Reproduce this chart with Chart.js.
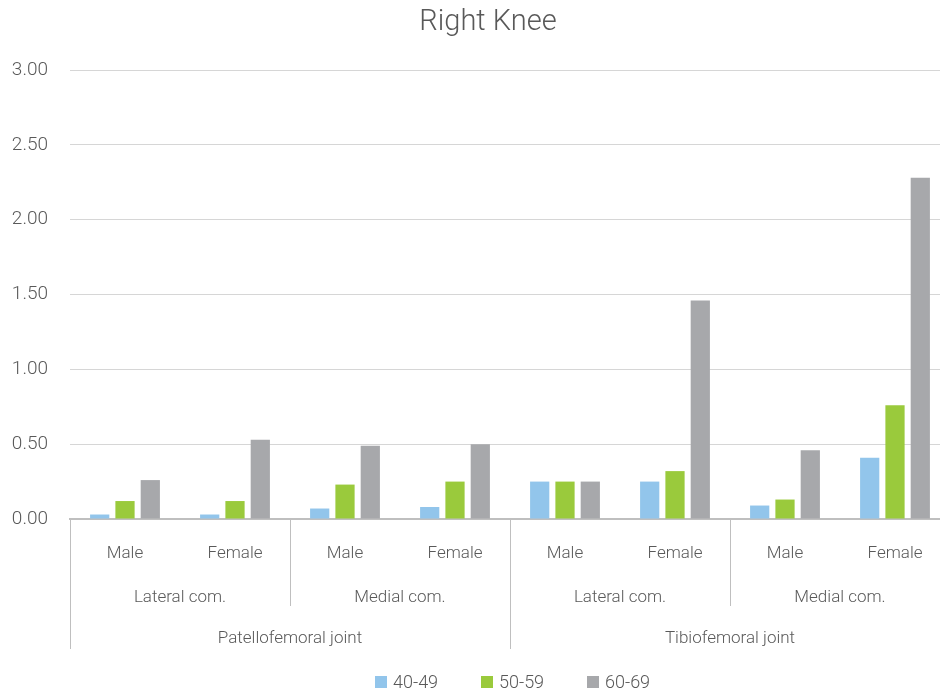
<!DOCTYPE html>
<html>
<head>
<meta charset="utf-8">
<script src="https://cdn.jsdelivr.net/npm/chart.js@4.4.1/dist/chart.umd.min.js"></script>
<style>
  html, body { margin: 0; padding: 0; background: #fff; }
  #wrap { width: 940px; height: 695px; overflow: hidden; }
</style>
</head>
<body>
<div id="wrap"><canvas id="kneeChart" width="950" height="695"></canvas></div>
<script>
// Categories (three levels on the x axis)
const genders = ['Male', 'Female', 'Male', 'Female', 'Male', 'Female', 'Male', 'Female'];
const compartments = ['Lateral com.', 'Medial com.', 'Lateral com.', 'Medial com.']; // each spans 2
const joints = ['Patellofemoral joint', 'Tibiofemoral joint'];                       // each spans 4

// Series
const seriesNames = ['40-49', '50-59', '60-69'];
const age40 = [0.03, 0.03, 0.07, 0.08, 0.25, 0.25, 0.09, 0.41];
const age50 = [0.12, 0.12, 0.23, 0.25, 0.25, 0.32, 0.13, 0.76];
const age60 = [0.26, 0.53, 0.49, 0.50, 0.25, 1.46, 0.46, 2.28];

const yTicks = [0, 0.5, 1, 1.5, 2, 2.5, 3];

const colors = ['#92c5eb', '#9aca3c', '#a7a8ab'];
const textColor = '#595959';
const fontFamily = 'Roboto, "Noto Sans", sans-serif';

// draws the title, the 3-level category axis and the legend
const groupAxis = {
    id: 'groupAxis',
    afterDraw(chart) {
        const ctx = chart.ctx;
        const x = chart.scales.x;
        const area = chart.chartArea;
        const base = area.bottom;
        const n = genders.length;
        const px = i => x.getPixelForValue(i);
        const edge = i => {
            if (i <= 0) return area.left;
            if (i >= n) return area.right;
            return (px(i - 1) + px(i)) / 2;
        };

        ctx.save();
        ctx.fillStyle = textColor;
        ctx.textAlign = 'center';
        ctx.textBaseline = 'middle';

        // title
        ctx.font = '300 29px ' + fontFamily;
        ctx.fillText('Right Knee', 488, 23);

        ctx.font = '300 17px ' + fontFamily;
        genders.forEach((g, i) => ctx.fillText(g, px(i), base + 35));

        compartments.forEach((c, k) => {
            const l = edge(k * 2), r = edge(k * 2 + 2);
            ctx.fillText(c, (l + r) / 2, base + 79);
        });
        joints.forEach((j, k) => {
            const l = edge(k * 4), r = edge(k * 4 + 4);
            ctx.fillText(j, (l + r) / 2, base + 120);
        });

        // separators
        ctx.strokeStyle = '#bfbfbf';
        ctx.lineWidth = 1;
        for (let k = 0; k < compartments.length; k++) {
            const xx = Math.round(edge(k * 2)) + 0.5;
            const full = (k * 2) % 4 === 0;
            ctx.beginPath();
            ctx.moveTo(xx, base);
            ctx.lineTo(xx, base + (full ? 130 : 87));
            ctx.stroke();
        }

        // legend
        const ly = 682;
        const itemW = 106;
        const startX = 375;
        ctx.textAlign = 'left';
        ctx.font = '300 18px ' + fontFamily;
        seriesNames.forEach((s, i) => {
            const bx = startX + i * itemW;
            ctx.fillStyle = colors[i];
            ctx.fillRect(bx, ly - 6, 12, 12);
            ctx.fillStyle = textColor;
            ctx.fillText(s, bx + 18, ly + 1);
        });
        ctx.restore();
    }
};

const ctx = document.getElementById('kneeChart').getContext('2d');
new Chart(ctx, {
    type: 'bar',
    data: {
        labels: genders,
        datasets: [
            { label: seriesNames[0], data: age40, backgroundColor: colors[0] },
            { label: seriesNames[1], data: age50, backgroundColor: colors[1] },
            { label: seriesNames[2], data: age60, backgroundColor: colors[2] }
        ]
    },
    options: {
        responsive: false,
        animation: false,
        devicePixelRatio: 1,
        layout: { padding: { top: 70, right: 0, bottom: 176, left: 0 } },
        datasets: {
            bar: { categoryPercentage: 0.69, barPercentage: 0.76, borderWidth: 0 }
        },
        plugins: {
            legend: { display: false },
            tooltip: { enabled: false },
            title: { display: false }
        },
        scales: {
            x: {
                ticks: { display: false },
                grid: { display: false, drawTicks: false },
                border: { display: true, color: '#bfbfbf', width: 2 }
            },
            y: {
                min: 0,
                max: 3,
                afterBuildTicks: s => { s.ticks = yTicks.map(v => ({ value: v })); },
                afterFit: s => { s.width = 70; },
                ticks: {
                    padding: 22,
                    color: textColor,
                    font: { family: fontFamily, size: 19, weight: '300' },
                    callback: v => Number(v).toFixed(2)
                },
                grid: { color: '#d6d6d6', drawTicks: false, lineWidth: 1 },
                border: { display: false }
            }
        }
    },
    plugins: [groupAxis]
});
</script>
</body>
</html>
